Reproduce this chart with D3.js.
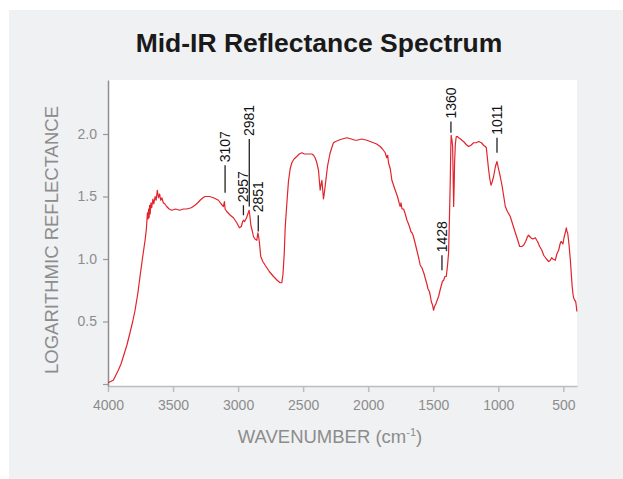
<!DOCTYPE html>
<html lang="en">
<head>
<meta charset="UTF-8">
<title>Mid-IR Reflectance Spectrum</title>
<script src="https://d3js.org/d3.v7.min.js"></script>
<style>
    body { margin: 0; background: #fff; font-family: "Liberation Sans", Arial, sans-serif; }
    .tick text { fill: #8c8c8c; font-size: 14px; font-family: "Liberation Sans", Arial, sans-serif; }
</style>
</head>
<body>
<div id="chart"></div>
<script>
// spectrum (wavenumber in cm-1, log reflectance)
const wavenumber = [4000,3980,3959,3940,3921,3900,3882,3855,3831,3810,3792,3770,3754,3733,3715,3705,3697,3692,3688,3684,3680,3676,3670,3664,3655,3648,3638,3630,3621,3612,3603,3595,3586,3575,3562,3549,3530,3510,3480,3450,3420,3395,3360,3331,3310,3292,3270,3254,3220,3190,3170,3151,3130,3113,3105,3100,3087,3060,3036,3010,2990,2975,2965,2959,2950,2935,2922,2915,2908,2902,2890,2882,2870,2856,2848,2842,2836,2826,2810,2792,2760,2728,2700,2677,2664,2655,2645,2638,2625,2613,2600,2587,2570,2549,2530,2510,2490,2472,2450,2433,2420,2408,2395,2382,2375,2369,2362,2356,2350,2344,2338,2331,2322,2313,2300,2292,2280,2267,2250,2228,2200,2164,2130,2100,2087,2050,2010,1985,1959,1935,1908,1890,1869,1858,1850,1844,1830,1818,1805,1792,1775,1765,1760,1754,1748,1740,1728,1715,1702,1690,1680,1672,1664,1655,1640,1626,1610,1600,1587,1570,1560,1549,1540,1530,1523,1515,1505,1498,1490,1480,1470,1459,1450,1440,1430,1420,1410,1400,1390,1382,1375,1369,1365,1362,1356,1351,1346,1343,1339,1336,1330,1323,1315,1305,1290,1280,1267,1250,1240,1228,1210,1190,1170,1151,1130,1113,1100,1092,1085,1074,1065,1056,1046,1036,1022,1010,1000,985,970,958,946,930,908,890,869,850,836,820,805,790,775,767,750,735,715,705,698,690,682,665,651,630,613,600,590,580,562,550,536,525,518,510,503,495,485,477,472,467,461,456,446,440,433,426,421,413,405,400,396];
const reflectance = [0.01,0.02,0.03,0.07,0.11,0.16,0.22,0.31,0.41,0.50,0.59,0.73,0.86,1.02,1.15,1.24,1.37,1.32,1.40,1.33,1.43,1.36,1.45,1.41,1.48,1.44,1.50,1.47,1.55,1.49,1.52,1.47,1.49,1.45,1.44,1.42,1.40,1.39,1.40,1.39,1.40,1.40,1.41,1.43,1.45,1.47,1.49,1.50,1.50,1.49,1.48,1.47,1.44,1.42,1.46,1.40,1.38,1.35,1.33,1.29,1.25,1.26,1.30,1.31,1.30,1.33,1.37,1.39,1.33,1.27,1.22,1.18,1.16,1.15,1.21,1.18,1.13,1.02,0.98,0.95,0.90,0.86,0.83,0.81,0.81,0.88,1.05,1.25,1.45,1.62,1.72,1.77,1.80,1.82,1.84,1.85,1.84,1.84,1.84,1.84,1.83,1.81,1.77,1.71,1.62,1.55,1.60,1.63,1.56,1.48,1.52,1.58,1.66,1.74,1.81,1.85,1.89,1.93,1.94,1.95,1.96,1.97,1.96,1.95,1.95,1.96,1.95,1.94,1.93,1.92,1.90,1.88,1.85,1.81,1.83,1.77,1.72,1.63,1.59,1.55,1.50,1.46,1.44,1.42,1.45,1.40,1.40,1.36,1.31,1.28,1.25,1.22,1.21,1.19,1.13,1.07,1.00,0.95,0.93,0.88,0.84,0.80,0.76,0.74,0.71,0.66,0.63,0.59,0.62,0.64,0.67,0.70,0.74,0.78,0.82,0.83,0.86,0.86,0.95,1.05,1.35,1.63,1.90,1.99,1.95,1.90,1.60,1.42,1.60,1.77,1.92,1.98,1.98,1.97,1.96,1.95,1.94,1.92,1.91,1.90,1.91,1.93,1.93,1.94,1.93,1.91,1.90,1.89,1.82,1.71,1.64,1.59,1.62,1.66,1.74,1.78,1.73,1.66,1.58,1.50,1.42,1.38,1.34,1.28,1.21,1.15,1.10,1.10,1.11,1.14,1.18,1.19,1.17,1.16,1.17,1.15,1.14,1.12,1.10,1.07,1.03,1.00,0.98,0.99,1.01,1.00,0.99,1.04,1.07,1.12,1.14,1.13,1.12,1.17,1.21,1.25,1.22,1.21,1.16,1.11,0.99,0.90,0.79,0.72,0.69,0.67,0.66,0.62,0.58];

// axis ticks
const xTicks = [4000, 3500, 3000, 2500, 2000, 1500, 1000, 500];
const yTicks = [0, 0.5, 1.0, 1.5, 2.0];

// peak markers: label, where the marker sits, and top/bottom of its short line
const peakLabels = ["3107", "2957", "2981", "2851", "1428", "1360", "1011"];
const peakAt     = [3100, 2959, 2914, 2845, 1433, 1364, 1010];
const peakTop    = [1.75, 1.43, 1.96, 1.35, 1.03, 2.10, 1.97];
const peakBottom = [1.53, 1.35, 1.42, 1.22, 0.91, 2.01, 1.85];

const width = 623, height = 479;
const plot = { left: 108, right: 577, top: 80, bottom: 386 };

const svg = d3.select("#chart").append("svg")
    .attr("width", width)
    .attr("height", height);

// grey panel + white plot area
svg.append("rect")
    .attr("x", 9).attr("y", 10)
    .attr("width", width - 9).attr("height", height - 10)
    .attr("fill", "#f0f1f3");

svg.append("rect")
    .attr("x", plot.left).attr("y", plot.top)
    .attr("width", plot.right - plot.left).attr("height", plot.bottom - plot.top)
    .attr("fill", "#fff");

const x = d3.scaleLinear().domain([4000, 395]).range([plot.left, plot.right]);
const y = d3.scaleLinear().domain([-0.016, 2.432]).range([plot.bottom, plot.top]);

svg.append("text")
    .attr("x", 319).attr("y", 52)
    .attr("text-anchor", "middle")
    .attr("font-size", 26.5).attr("font-weight", "bold")
    .attr("fill", "#1a1a1a")
    .text("Mid-IR Reflectance Spectrum");

// x axis
const xAxis = svg.append("g")
    .attr("transform", `translate(0,${plot.bottom})`)
    .call(d3.axisBottom(x).tickValues(xTicks).tickFormat(d3.format("d")).tickSize(6).tickSizeOuter(0).tickPadding(8));
xAxis.select(".domain").attr("stroke", "#bdbdbd").attr("stroke-width", 1.5);
xAxis.selectAll(".tick line").attr("stroke", "#bdbdbd").attr("stroke-width", 1.5);

// y axis
const yAxis = svg.append("g")
    .attr("transform", `translate(${plot.left},0)`)
    .call(d3.axisLeft(y).tickValues(yTicks)
        .tickFormat(d => d === 0 ? "" : d3.format(".1f")(d))
        .tickSize(5).tickSizeOuter(0).tickPadding(6));
yAxis.select(".domain").attr("stroke", "#8f8f8f").attr("stroke-width", 1.5);
yAxis.selectAll(".tick line").attr("stroke", "#9a9a9a").attr("stroke-width", 1.2);

// axis titles
const xTitle = svg.append("text")
    .attr("x", 330).attr("y", 443)
    .attr("text-anchor", "middle")
    .attr("font-size", 18.5).attr("fill", "#8c8c8c");
xTitle.append("tspan").text("WAVENUMBER (cm");
xTitle.append("tspan").attr("font-size", 11).attr("dy", -7).text("-1");
xTitle.append("tspan").attr("dy", 7).text(")");

svg.append("text")
    .attr("transform", "translate(58,240) rotate(-90)")
    .attr("text-anchor", "middle")
    .attr("font-size", 18.5).attr("fill", "#8c8c8c")
    .text("LOGARITHMIC REFLECTANCE");

// spectrum line
const spectrum = wavenumber.map((w, i) => ({ w, r: reflectance[i] }));
svg.append("path")
    .datum(spectrum)
    .attr("fill", "none")
    .attr("stroke", "#e2232b")
    .attr("stroke-width", 1.2)
    .attr("stroke-linejoin", "round")
    .attr("d", d3.line().x(d => x(d.w)).y(d => y(d.r)));

// peak markers
const peaks = peakLabels.map((t, i) => ({ t, w: peakAt[i], top: peakTop[i], bottom: peakBottom[i] }));
const pk = svg.append("g").selectAll("g").data(peaks).join("g");

pk.append("line")
    .attr("x1", d => x(d.w)).attr("x2", d => x(d.w))
    .attr("y1", d => y(d.top)).attr("y2", d => y(d.bottom))
    .attr("stroke", "#222").attr("stroke-width", 1.3);

pk.append("text")
    .attr("transform", d => `translate(${x(d.w)},${y(d.top) - 3}) rotate(-90)`)
    .attr("dy", "0.35em")
    .attr("font-size", 14).attr("fill", "#111")
    .text(d => d.t);
</script>
</body>
</html>
